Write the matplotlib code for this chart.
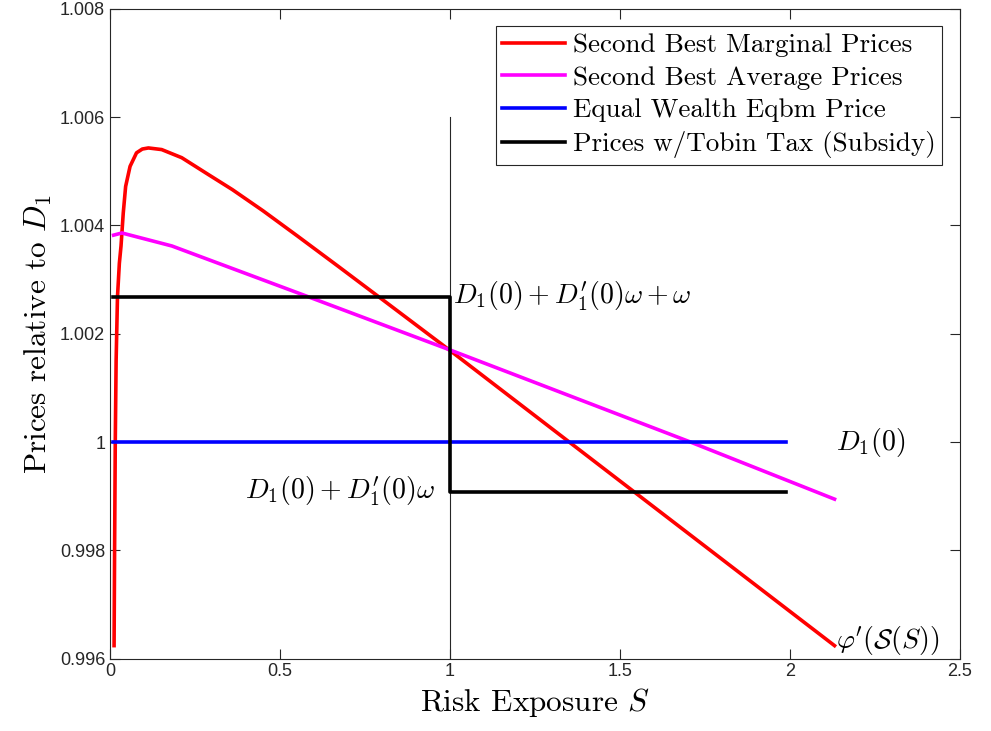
import numpy as np
import matplotlib
matplotlib.use('Agg')
from matplotlib import pyplot as plt

plt.rcParams['mathtext.fontset'] = 'cm'
plt.rcParams['axes.formatter.use_mathtext'] = True

# curves
marginal_x = [0.012, 0.0135, 0.0155, 0.018, 0.022, 0.0275, 0.0324, 0.039, 0.046, 0.059, 0.078,
              0.095, 0.113, 0.152, 0.211, 0.289, 0.36, 0.45, 0.55, 0.67, 0.795, 1.0, 1.5, 2.131]
marginal_y = [0.99624, 0.9980, 1.0, 1.0015, 1.00268, 1.0033, 1.00362, 1.00423, 1.00472, 1.00509,
              1.00534, 1.00541, 1.00543, 1.00540, 1.00525, 1.00494, 1.00466, 1.00427, 1.00381,
              1.00325, 1.00266, 1.00169, 0.99928, 0.99624]
average_x = [0.0106, 0.035, 0.182, 0.584, 1.0, 1.707, 2.131]
average_y = [1.00382, 1.00386, 1.00362, 1.00268, 1.00170, 1.0, 0.998945]
equal_x = [0.01, 1.989]
equal_y = [1.0, 1.0]
tobin_x = [0.01, 0.999, 0.999, 1.989]
tobin_y = [1.00268, 1.00268, 0.999085, 0.999085]
split_x = [1.0, 1.0]
split_y = [0.996, 1.006]

xticks = [0, 0.5, 1, 1.5, 2, 2.5]
xticklabels = ['0', '0.5', '1', '1.5', '2', '2.5']
yticks = [0.996, 0.998, 1.0, 1.002, 1.004, 1.006, 1.008]
yticklabels = ['0.996', '0.998', '1', '1.002', '1.004', '1.006', '1.008']

fig = plt.figure(figsize=(9.91, 7.31), dpi=100)
ax = fig.add_axes([0.111, 0.099, 0.8577, 0.889])

ax.plot(split_x, split_y, color='#262626', linewidth=0.8)
l1, = ax.plot(marginal_x, marginal_y, color='red', linewidth=2.6, label='Second Best Marginal Prices')
l2, = ax.plot(average_x, average_y, color='magenta', linewidth=2.6, label='Second Best Average Prices')
l3, = ax.plot(equal_x, equal_y, color='blue', linewidth=2.6, label='Equal Wealth Eqbm Price')
l4, = ax.plot(tobin_x, tobin_y, color='black', linewidth=2.6, label='Prices w/Tobin Tax (Subsidy)')

txt = dict(fontsize=20, va='center')
ax.text(1.008, 1.00268, r"$D_1(0) + D_1'(0)\omega + \omega$", ha='left', **txt)
ax.text(0.955, 0.99908, r"$D_1(0) + D_1'(0)\omega$", ha='right', **txt)
ax.text(2.135, 1.0, r"$D_1(0)$", ha='left', **txt)
ax.text(2.135, 0.99633, r"$\varphi'(\mathcal{S}(S))$", ha='left', **txt)

ax.set_xlim(0, 2.5)
ax.set_ylim(0.996, 1.008)
ax.set_xticks(xticks)
ax.set_xticklabels(xticklabels)
ax.set_yticks(yticks)
ax.set_yticklabels(yticklabels)
ax.tick_params(direction='in', length=7, width=0.8, color='#262626', labelsize=13,
               top=True, right=True, labelcolor='#262626')
for lab in ax.get_xticklabels() + ax.get_yticklabels():
    lab.set_family('Liberation Sans')
for s in ax.spines.values():
    s.set_color('#262626')
    s.set_linewidth(0.8)

ax.set_xlabel(r"Risk Exposure $S$", fontsize=22.5, family='cmr10')
ax.set_ylabel(r"Prices relative to $D_1$", fontsize=22.5, family='cmr10')

leg = ax.legend(handles=[l1, l2, l3, l4], loc='upper right', prop={'family': 'cmr10', 'size': 19.5},
                fancybox=False, edgecolor='#262626', framealpha=1, handlelength=2.3,
                handletextpad=0.3, borderaxespad=0.65, labelspacing=0.32, borderpad=0.25)
leg.get_frame().set_linewidth(0.8)

fig.savefig('out.png', dpi=100)
